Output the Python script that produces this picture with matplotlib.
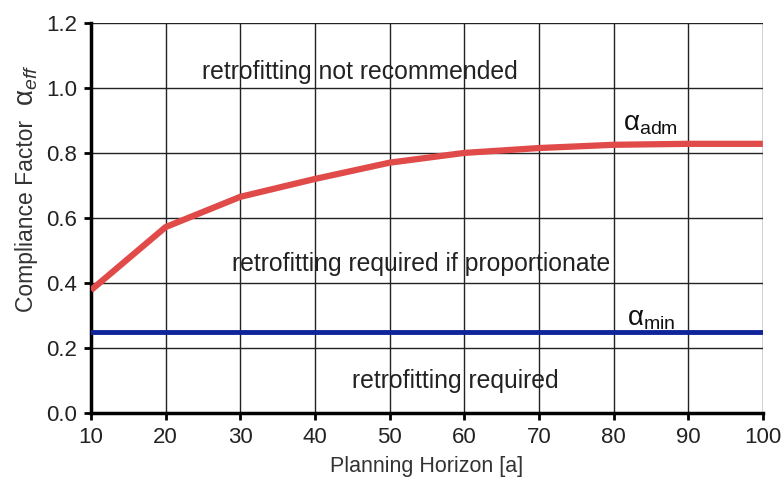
import matplotlib
matplotlib.use("Agg")
import matplotlib.pyplot as plt

plt.rcParams["font.family"] = ["Liberation Sans", "DejaVu Sans"]
plt.rcParams["mathtext.fontset"] = "custom"
plt.rcParams["mathtext.rm"] = "Liberation Sans"
plt.rcParams["mathtext.it"] = "Liberation Sans:italic"

horizon = [10, 20, 30, 40, 50, 60, 70, 80, 90, 100]
alpha_adm = [0.378, 0.572, 0.665, 0.72, 0.77, 0.80, 0.815, 0.825, 0.828, 0.828]
alpha_min = 0.25

fig = plt.figure(figsize=(7.84, 4.86), dpi=100)
ax = fig.add_axes([0.116, 0.150, 0.857, 0.803])

ax.plot(horizon, alpha_adm, color="#e04a48", linewidth=4.5, solid_capstyle="butt", zorder=3)
ax.plot([horizon[0], horizon[-1]], [alpha_min, alpha_min], color="#10249a", linewidth=3.5, zorder=3)

ax.set_xlim(10, 100)
ax.set_ylim(0, 1.2)
ax.set_xticks(range(10, 101, 10))
ax.set_yticks([0.0, 0.2, 0.4, 0.6, 0.8, 1.0, 1.2])
ax.set_yticklabels([f"{v:.1f}" for v in ax.get_yticks()])
ax.grid(True, color="#222222", linewidth=1.0)
ax.set_axisbelow(True)

for s in ("top", "right"):
    ax.spines[s].set_visible(False)
for s in ("left", "bottom"):
    ax.spines[s].set_linewidth(2.5)
ax.tick_params(direction="out", length=5, width=2, labelsize=16, pad=5,
               labelcolor="#222222")

ax.set_xlabel("Planning Horizon [a]", fontsize=15.5, color="#333333", labelpad=6)
# y label in two pieces so the alpha can be larger, as in the original
fig.text(27 / 784, 0.556, "Compliance Factor", rotation=90, fontsize=16.5,
         ha="center", va="center", color="#333333")
fig.text(27 / 784, 0.825, r"$\mathrm{\alpha}_{eff}$", rotation=90, fontsize=20,
         ha="center", va="center", color="#333333")

ax.text(46.0, 1.05, "retrofitting not recommended", fontsize=17.8, ha="center", va="center", color="#222222")
ax.text(54.2, 0.46, "retrofitting required if proportionate", fontsize=17.8, ha="center", va="center", color="#222222")
ax.text(58.8, 0.10, "retrofitting required", fontsize=17.8, ha="center", va="center", color="#222222")
ax.text(85.0, 0.89, r"$\mathrm{\alpha_{adm}}$", fontsize=20, ha="center", va="center", color="#111111")
ax.text(85.0, 0.29, r"$\mathrm{\alpha_{min}}$", fontsize=20, ha="center", va="center", color="#111111")

fig.savefig("out.png", dpi=100, facecolor="white")
